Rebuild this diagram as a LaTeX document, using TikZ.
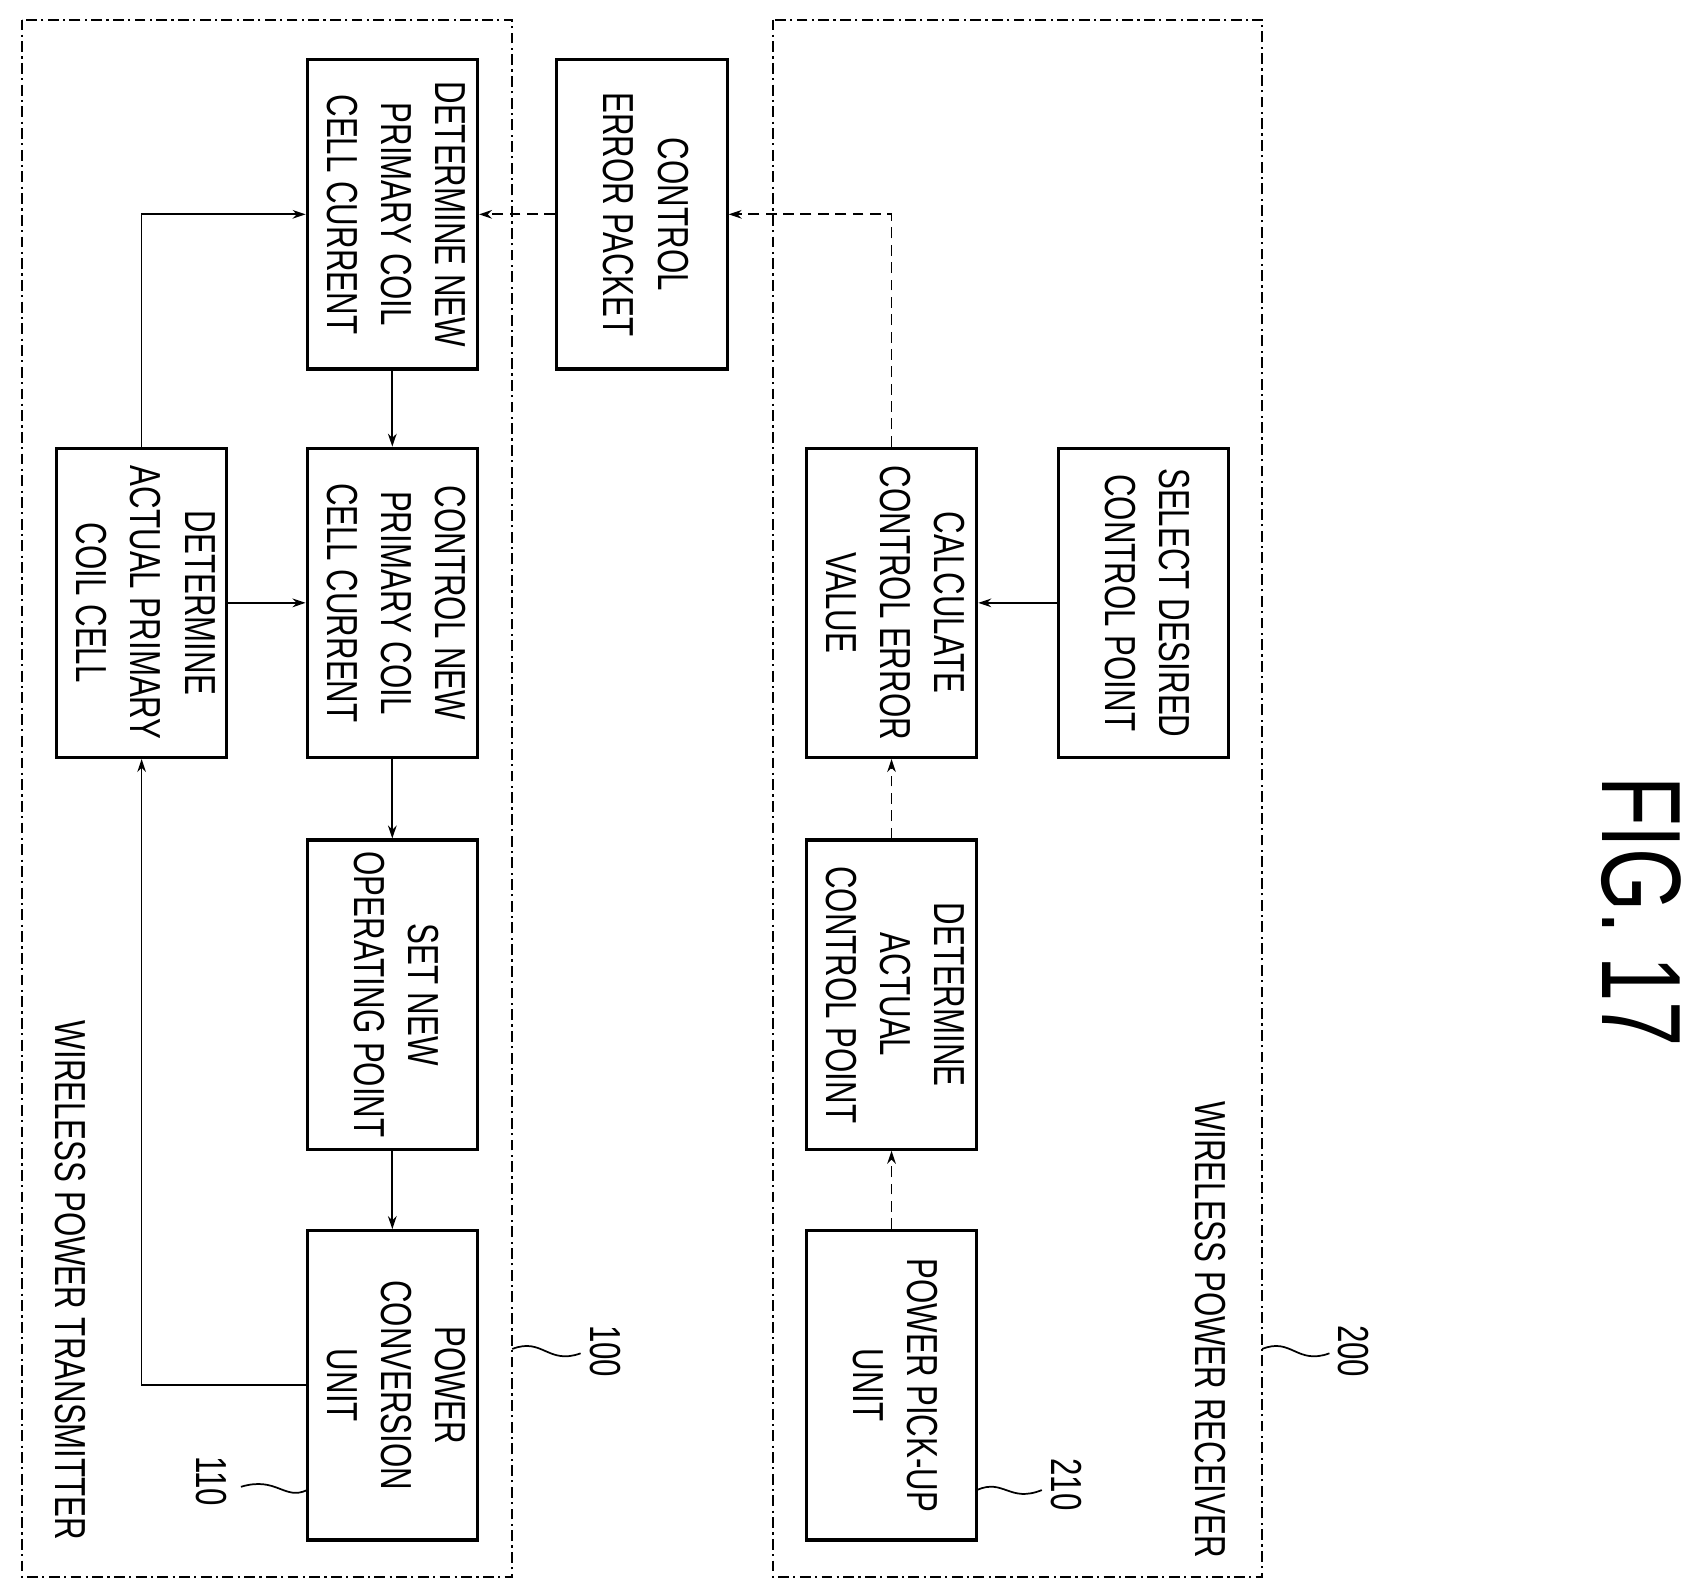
\documentclass[tikz,border=0pt]{standalone}
\usepackage{fontspec}
\setmainfont[FakeStretch=0.72]{Liberation Sans}
\usetikzlibrary{arrows.meta}
\begin{document}
\begin{tikzpicture}[x=0.5pt,y=-0.5pt,
  box/.style={draw,line width=1.4pt,minimum width=78.5pt,minimum height=142.5pt,inner sep=0pt,font=\fontsize{20}{25}\selectfont},
  outer/.style={draw,line width=0.9pt,dash pattern=on 5pt off 2pt on 1pt off 2pt},
  arr/.style={line width=0.8pt,-{Stealth[length=6pt,width=4pt]}},
  darr/.style={arr,dash pattern=on 5pt off 3pt},
  lbl/.style={font=\fontsize{20}{25}\selectfont,inner sep=0pt},
  sq/.style={line width=0.8pt}]
\useasboundingbox (0,0) rectangle (1560,1467);
\newcommand{\rt}[1]{\rotatebox{-90}{\begin{tabular}{@{}c@{}}#1\end{tabular}}}
\draw[outer] (20,18) rectangle (472,1453);
\draw[outer] (712,18) rectangle (1163,1453);
\node[box] (dnp) at (361.5,197.5) {\rt{DETERMINE NEW\\PRIMARY COIL\\CELL CURRENT}};
\node[box] (cep) at (591.5,197.5) {\rt{CONTROL\\ERROR PACKET}};
\node[box] (cnp) at (361.5,555.5) {\rt{CONTROL NEW\\PRIMARY COIL\\CELL CURRENT}};
\node[box] (dapc) at (130.5,555.5) {\rt{DETERMINE\\ACTUAL PRIMARY\\COIL CELL}};
\node[box] (snop) at (361.5,916.5) {\rt{SET NEW\\OPERATING POINT}};
\node[box] (pcu) at (361.5,1276.5) {\rt{POWER\\CONVERSION\\UNIT}};
\node[box] (sdcp) at (1053.5,555.5) {\rt{SELECT DESIRED\\CONTROL POINT}};
\node[box] (ccev) at (821.5,555.5) {\rt{CALCULATE\\CONTROL ERROR\\VALUE}};
\node[box] (dacp) at (821.5,916.5) {\rt{DETERMINE\\ACTUAL\\CONTROL POINT}};
\node[box] (ppu) at (821.5,1276.5) {\rt{POWER PICK-UP\\UNIT}};
\coordinate (c1) at (130.5,1276.5);
\coordinate (c2) at (130.5,197.5);
\coordinate (c3) at (821.5,197.5);
\draw[arr] (dnp) -- (cnp);
\draw[arr] (cnp) -- (snop);
\draw[arr] (snop) -- (pcu);
\draw[arr] (dapc) -- (cnp);
\draw[arr] (pcu.west) -- (c1) -- (dapc.south);
\draw[arr] (dapc.north) -- (c2) -- (dnp.west);
\draw[darr] (ppu) -- (dacp);
\draw[darr] (dacp) -- (ccev);
\draw[arr] (sdcp) -- (ccev);
\draw[darr] (ccev.north) -- (c3) -- (cep.east);
\draw[darr] (cep.west) -- (dnp.east);
\node[lbl] (tl) at (65,1180) {\rotatebox{-90}{WIRELESS POWER TRANSMITTER}};
\node[lbl] (rl) at (1115,1225) {\rotatebox{-90}{WIRELESS POWER RECEIVER}};
\node[lbl] (n100) at (558,1245) {\rotatebox{-90}{100}};
\node[lbl] (n200) at (1247,1245) {\rotatebox{-90}{200}};
\node[lbl] (n110) at (195,1365) {\rotatebox{-90}{110}};
\node[lbl] (n210) at (983,1368) {\rotatebox{-90}{210}};
\draw[sq] (472,1243) .. controls (500,1232) and (505,1258) .. (535,1247);
\draw[sq] (1163,1243) .. controls (1190,1232) and (1195,1258) .. (1225,1247);
\draw[sq] (283,1373) .. controls (262,1383) and (255,1360) .. (222,1370);
\draw[sq] (900,1373) .. controls (925,1362) and (930,1385) .. (960,1373);
\node[font=\fontsize{52}{60}\selectfont,inner sep=0pt] (fig) at (1512,840) {\rotatebox{-90}{FIG. 17}};
\end{tikzpicture}
\end{document}
